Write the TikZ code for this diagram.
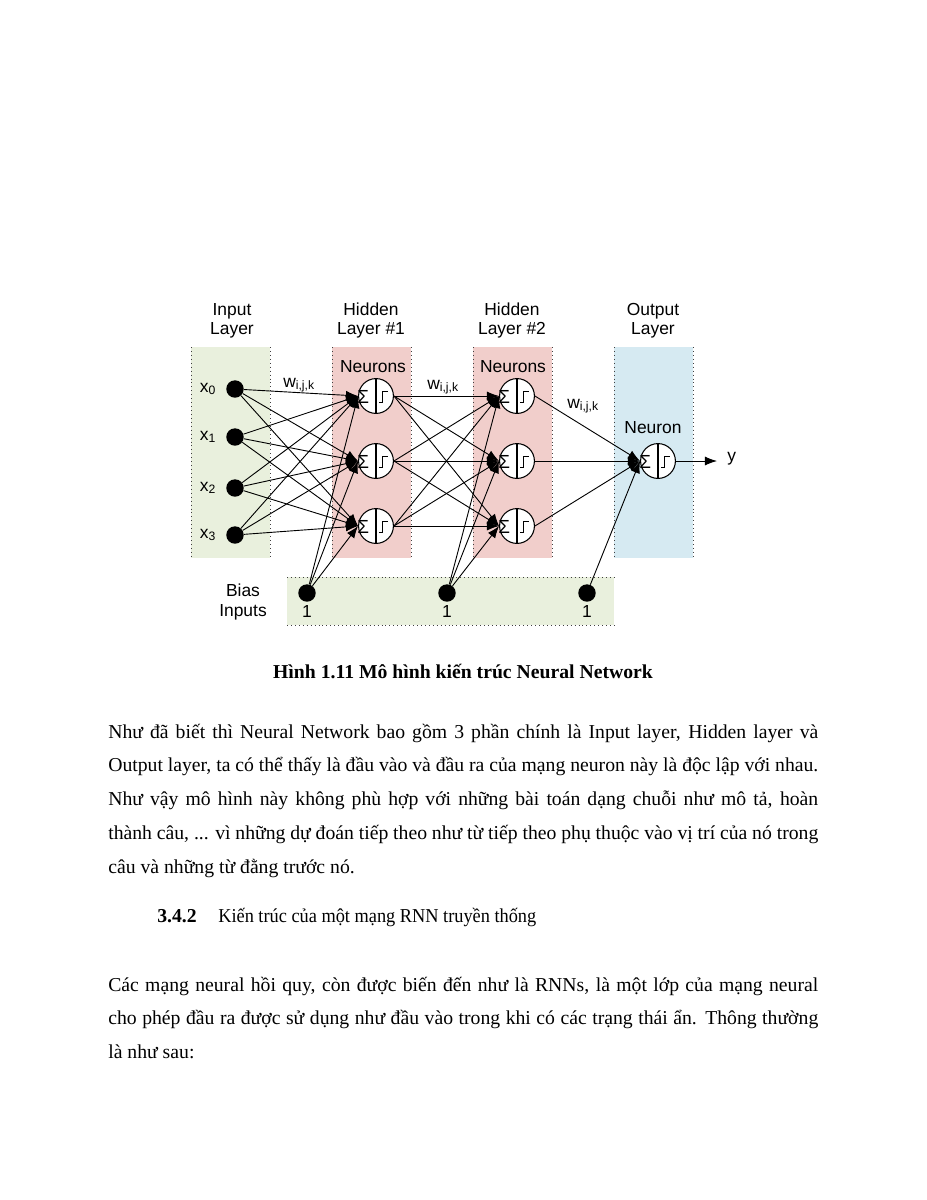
\documentclass[tikz,border=0pt]{standalone}
\usepackage{fontspec}
\setmainfont{Liberation Serif}
\newfontfamily\diagfont{Liberation Sans}
\newfontfamily\narrowserif[FakeStretch=0.93]{Liberation Serif}
\usetikzlibrary{arrows.meta}
\definecolor{ingreen}{RGB}{233,240,221}
\definecolor{hidpink}{RGB}{241,206,203}
\definecolor{outblue}{RGB}{214,234,242}
\tikzset{
  edgedots/.style={dotted, line width=0.6pt, black!75},
  unitdot/.style={circle, fill=black, inner sep=0pt, minimum size=11.5pt},
  neuronc/.style={circle, draw, fill=white, inner sep=0pt, minimum size=23pt, line width=0.7pt},
  wire/.style={-{Latex[length=8pt,width=6pt]}, line width=0.6pt},
  lbl/.style={font=\diagfont\fontsize{11.5}{13}\selectfont, inner sep=0pt},
  bodytext/.style={font=\fontsize{13}{22.4}\selectfont, inner sep=0pt},
}
\begin{document}
\begin{tikzpicture}[x=0.66pt,y=-0.66pt]
  \fill[white] (0,0) rectangle (927,1200);
  \useasboundingbox (0,0) rectangle (927,1200);
  % layer bands
  \fill[ingreen] (191,347) rectangle (270,558);
  \fill[hidpink] (332,347) rectangle (411,558);
  \fill[hidpink] (473,347) rectangle (552,558);
  \fill[outblue] (614,347) rectangle (693,558);
  \fill[ingreen] (287,577) rectangle (614,625);
  \foreach \x in {191,270,332,411,473,552,614,693}
    \draw[edgedots] (\x,347) -- (\x,558);
  \draw[edgedots] (287,577) -- (614,577);
  \draw[edgedots] (287,625) -- (614,625);
  % titles
  \node[lbl, anchor=base] (tin) at (232,315) {Input};
  \node[lbl, anchor=base] (tinb) at (232,334) {Layer};
  \node[lbl, anchor=base] (th1) at (371,315) {Hidden};
  \node[lbl, anchor=base] (th1b) at (371,334) {Layer \#1};
  \node[lbl, anchor=base] (th2) at (512,315) {Hidden};
  \node[lbl, anchor=base] (th2b) at (512,334) {Layer \#2};
  \node[lbl, anchor=base] (tout) at (653,315) {Output};
  \node[lbl, anchor=base] (toutb) at (653,334) {Layer};
  \node[lbl, anchor=base] (nh1) at (373,372) {Neurons};
  \node[lbl, anchor=base] (nh2) at (513,372) {Neurons};
  \node[lbl, anchor=base] (nout) at (653,433) {Neuron};
  \node[lbl, anchor=base] (bias) at (243,596) {Bias};
  \node[lbl, anchor=base] (biasb) at (243,616) {Inputs};
  % inputs
  \node[unitdot] (x0) at (235,389) {}; \node[lbl, anchor=base] (lx0) at (208,392) {x\textsubscript{0}};
  \node[unitdot] (x1) at (235,437) {}; \node[lbl, anchor=base] (lx1) at (208,440) {x\textsubscript{1}};
  \node[unitdot] (x2) at (235,488) {}; \node[lbl, anchor=base] (lx2) at (208,491) {x\textsubscript{2}};
  \node[unitdot] (x3) at (235,535) {}; \node[lbl, anchor=base] (lx3) at (208,538) {x\textsubscript{3}};
  % bias units
  \node[unitdot] (b1) at (307,593) {}; \node[lbl, anchor=base] (lb1) at (307,617) {1};
  \node[unitdot] (b2) at (447,593) {}; \node[lbl, anchor=base] (lb2) at (447,617) {1};
  \node[unitdot] (b3) at (587,593) {}; \node[lbl, anchor=base] (lb3) at (587,617) {1};
  % neurons
  \node[neuronc] (h1) at (376,396) {}; \node[neuronc] (g1) at (517,396) {};
  \node[neuronc] (h2) at (376,461) {}; \node[neuronc] (g2) at (517,461) {};
  \node[neuronc] (h3) at (376,526) {}; \node[neuronc] (g3) at (517,526) {};
  \node[neuronc] (out) at (658,461) {};
  \foreach \n in {h1,h2,h3,g1,g2,g3,out} {
    \draw[line width=0.7pt] (\n.north) -- (\n.south);
    \node[font=\diagfont\fontsize{12.5}{12}\selectfont, inner sep=0pt] at ([xshift=-8.5,yshift=-0.5]\n.center) {Σ};
    \draw[line width=0.65pt] ([shift={(3,6)}]\n.center) -- ++(3.5,0) -- ++(0,-11) -- ++(5,0);
  }
  % weights
  \node[lbl, anchor=base west] (w1) at (283,387) {w\textsubscript{i,j,k}};
  \node[lbl, anchor=base west] (w2) at (427,389) {w\textsubscript{i,j,k}};
  \node[lbl, anchor=base west] (w3) at (567,408) {w\textsubscript{i,j,k}};
  % connections
  \foreach \i in {0,...,3}
    \foreach \j in {1,2,3}
      \draw[wire] (x\i) -- (h\j.west);
  \foreach \i in {1,2,3} {
    \draw[wire] (b1) -- (h\i.west);
    \draw[wire] (b2) -- (g\i.west);
    \draw[wire] (g\i.east) -- (out.west);
    \foreach \j in {1,2,3}
      \draw[wire] (h\i.east) -- (g\j.west);
  }
  \draw[wire] (b3) -- (out.west);
  \coordinate (yend) at (717,461);
  \draw[wire] (out.east) -- (yend);
  \node[lbl, anchor=west] (ylbl) at (727,459) {y};
  % caption and text
  \node[bodytext, font=\bfseries\fontsize{13}{15}\selectfont, anchor=base] (cap) at (463,678)
    {Hình 1.11 Mô hình kiến trúc Neural Network};
  \node[bodytext, anchor=base west, text width=468.6pt, align=justify] (par1) at (108,738)
    {Như đã biết thì Neural Network bao gồm 3 phần chính là Input layer, Hidden layer và\linebreak
     Output layer, ta có thể thấy là đầu vào và đầu ra của mạng neuron này là độc lập với nhau.\linebreak
     Như vậy mô hình này không phù hợp với những bài toán dạng chuỗi như mô tả, hoàn\linebreak
     thành câu, ... vì những dự đoán tiếp theo như từ tiếp theo phụ thuộc vào vị trí của nó trong\linebreak
     câu và những từ đằng trước nó.};
  \node[bodytext, font=\bfseries\fontsize{13}{15}\selectfont, anchor=base west] (secno) at (157,922) {3.4.2};
  \node[bodytext, font=\narrowserif\fontsize{13}{15}\selectfont, anchor=base west] (sectitle) at (218,922)
    {Kiến trúc của một mạng RNN truyền thống};
  \node[bodytext, anchor=base west, text width=468.6pt, align=justify] (par2) at (108,991)
    {Các mạng neural hồi quy, còn được biến đến như là RNNs, là một lớp của mạng neural\linebreak
     cho phép đầu ra được sử dụng như đầu vào trong khi có các trạng thái ẩn. Thông thường\linebreak
     là như sau:};
\end{tikzpicture}
\end{document}
